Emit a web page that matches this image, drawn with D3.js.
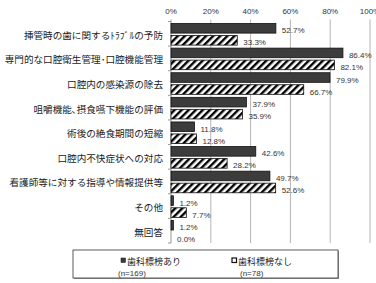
<!DOCTYPE html>
<html>
<head>
<meta charset="utf-8">
<script src="https://cdn.jsdelivr.net/npm/d3@7"></script>
<style>
  body { margin: 0; background: #fff; }
  svg { display: block; }
</style>
</head>
<body>
<div id="chart"></div>
<script>
// categories and values
var categories = [
    "挿管時の歯に関するﾄﾗﾌﾞﾙの予防",
    "専門的な口腔衛生管理･口腔機能管理",
    "口腔内の感染源の除去",
    "咀嚼機能､摂食嚥下機能の評価",
    "術後の絶食期間の短縮",
    "口腔内不快症状への対応",
    "看護師等に対する指導や情報提供等",
    "その他",
    "無回答"
]
var withDental = [52.7, 86.4, 79.9, 37.9, 11.8, 42.6, 49.7, 1.2, 1.2]
var withoutDental = [33.3, 82.1, 66.7, 35.9, 12.8, 28.2, 52.6, 7.7, 0.0]
var seriesNames = ["歯科標榜あり", "歯科標榜なし"]
var seriesN = ["(n=169)", "(n=78)"]
var xTicks = [0, 20, 40, 60, 80, 100]

var width = 376
var height = 283
// plot area (window.top is reserved, so use other names)
var plotLeft = 171, plotRight = 370, plotTop = 21.5, plotBottom = 243

var svg = d3.select("#chart")
    .append("svg")
    .attr("width", width)
    .attr("height", height)

// hatch pattern for the second series
var defs = svg.append("defs")
var pat = defs.append("pattern")
    .attr("id", "hatch")
    .attr("patternUnits", "userSpaceOnUse")
    .attr("width", 5)
    .attr("height", 5)
    .attr("patternTransform", "rotate(45)")
pat.append("rect").attr("width", 5).attr("height", 5).attr("fill", "#fff")
pat.append("rect").attr("width", 2.4).attr("height", 5).attr("fill", "#000")

var x = d3.scaleLinear().domain([0, 100]).range([plotLeft, plotRight])
var y = d3.scaleBand().domain(categories).range([plotTop, plotBottom])
var inner = d3.scaleBand().domain([0, 1]).range([2, y.bandwidth() - 1]).paddingInner(0.2)

// gridlines
svg.selectAll(".grid")
    .data(xTicks.slice(1))
    .enter()
    .append("line")
    .attr("x1", function(d) { return x(d) })
    .attr("x2", function(d) { return x(d) })
    .attr("y1", plotTop - 2)
    .attr("y2", plotBottom)
    .attr("stroke", "#b4b4b4")
    .attr("stroke-width", 1)

// top tick labels
svg.selectAll(".xlab")
    .data(xTicks)
    .enter()
    .append("text")
    .attr("x", function(d) { return x(d) })
    .attr("y", 14)
    .attr("text-anchor", "middle")
    .style("font-family", "'Liberation Sans', Arial, sans-serif")
    .style("font-size", "8px")
    .attr("fill", "#333")
    .text(function(d) { return d + "%" })

// left axis with ticks at band edges
svg.append("line")
    .attr("x1", plotLeft).attr("x2", plotLeft)
    .attr("y1", plotTop - 2).attr("y2", plotBottom)
    .attr("stroke", "#999")
svg.selectAll(".ytick")
    .data(d3.range(categories.length + 1))
    .enter()
    .append("line")
    .attr("x1", plotLeft - 3).attr("x2", plotLeft)
    .attr("y1", function(i) { return plotTop + i * y.step() })
    .attr("y2", function(i) { return plotTop + i * y.step() })
    .attr("stroke", "#999")

// category labels
svg.selectAll(".cat")
    .data(categories)
    .enter()
    .append("text")
    .attr("x", 163)
    .attr("y", function(d) { return y(d) + y.bandwidth() / 2 + 1 })
    .attr("text-anchor", "end")
    .attr("dominant-baseline", "central")
    .style("font-family", "'Noto Sans CJK JP', sans-serif")
    .style("font-size", "9.6px")
    .attr("fill", "#222")
    .text(function(d) { return d })

var series = [withDental, withoutDental]
var fills = ["#3c3c3c", "url(#hatch)"]

series.forEach(function(vals, s) {
    var rows = categories.map(function(c, i) { return { cat: c, value: vals[i] } })

    svg.selectAll(".bar" + s)
        .data(rows)
        .enter()
        .append("rect")
        .attr("x", x(0))
        .attr("y", function(d) { return y(d.cat) + inner(s) })
        .attr("width", function(d) { return x(d.value) - x(0) })
        .attr("height", inner.bandwidth())
        .attr("fill", fills[s])
        .attr("stroke", "#111")
        .attr("stroke-width", 0.8)

    svg.selectAll(".val" + s)
        .data(rows)
        .enter()
        .append("text")
        .attr("x", function(d) { return x(d.value) + 6 })
        .attr("y", function(d) { return y(d.cat) + inner(s) + inner.bandwidth() / 2 + 2.5 })
        .attr("dominant-baseline", "central")
        .style("font-family", "'Liberation Sans', Arial, sans-serif")
        .style("font-size", "8px")
        .attr("fill", "#333")
        .text(function(d) { return d.value.toFixed(1) + "%" })
})

// legend
var lg = svg.append("g")
lg.append("rect")
    .attr("x", 74).attr("y", 251).attr("width", 265).attr("height", 28)
    .attr("fill", "#999")
lg.append("rect")
    .attr("x", 73).attr("y", 250).attr("width", 265).attr("height", 28)
    .attr("fill", "#fff").attr("stroke", "#333").attr("stroke-width", 0.8)

var legendX = [121, 232]
var nX = [118, 240]
seriesNames.forEach(function(name, s) {
    lg.append("rect")
        .attr("x", legendX[s]).attr("y", 258).attr("width", 4.5).attr("height", 4.5)
        .attr("fill", s == 0 ? "#3c3c3c" : "#fff")
        .attr("stroke", "#111").attr("stroke-width", s == 0 ? 0.5 : 1.2)
    lg.append("text")
        .attr("x", legendX[s] + 6).attr("y", 261)
        .attr("dominant-baseline", "central")
        .style("font-family", "'Noto Sans CJK JP', sans-serif")
        .style("font-size", "9px")
        .attr("fill", "#222")
        .text(name)
    lg.append("text")
        .attr("x", nX[s]).attr("y", 273.5)
        .attr("dominant-baseline", "central")
        .style("font-family", "'Liberation Sans', Arial, sans-serif")
        .style("font-size", "8px")
        .attr("fill", "#333")
        .text(seriesN[s])
})
</script>
</body>
</html>
